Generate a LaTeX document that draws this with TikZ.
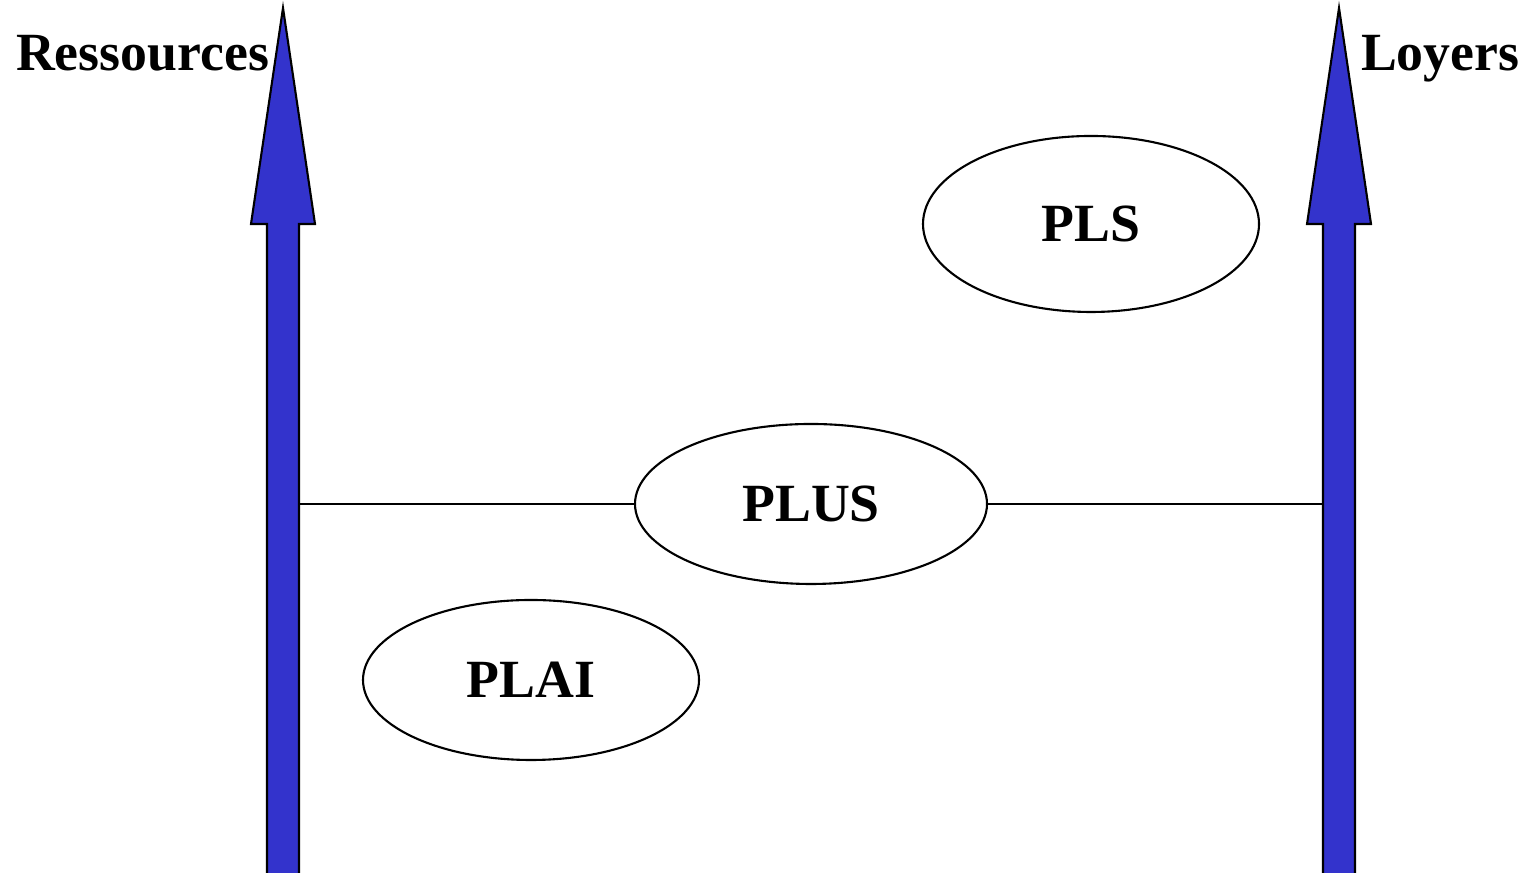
\documentclass[tikz,border=0pt]{standalone}
\usepackage{fontspec}
\setmainfont{Liberation Serif}
\usetikzlibrary{shapes.geometric}

\begin{document}
\begin{tikzpicture}[line width=0.6pt,
  every node/.style={font=\fontsize{15.3}{18}\selectfont\bfseries},
  oval/.style={draw,ellipse,inner sep=0pt,minimum width=3.36cm,minimum height=1.6cm},
  axis label/.style={inner sep=0pt}]
\useasboundingbox (0,0) rectangle (15.22,8.73);
\foreach \x in {2.83,13.39}
  \draw[fill={rgb,255:red,51;green,51;blue,204}]
    (\x-0.16,-0.1) -- (\x-0.16,6.49) -- (\x-0.32,6.49) -- (\x,8.65)
    -- (\x+0.32,6.49) -- (\x+0.16,6.49) -- (\x+0.16,-0.1) -- cycle;
\node[axis label,anchor=base east] (res) at (2.70,8.02) {Ressources};
\node[axis label,anchor=base west] (loy) at (13.60,8.02) {Loyers};
\node[oval,minimum height=1.76cm] (pls) at (10.91,6.49) {PLS};
\node[oval,minimum width=3.52cm] (plus) at (8.11,3.69) {PLUS};
\node[oval] (plai) at (5.31,1.93) {PLAI};
\coordinate (resaxis) at (2.99,3.69);
\coordinate (loyaxis) at (13.23,3.69);
\draw (resaxis) -- (plus);
\draw (plus) -- (loyaxis);
\end{tikzpicture}
\end{document}
